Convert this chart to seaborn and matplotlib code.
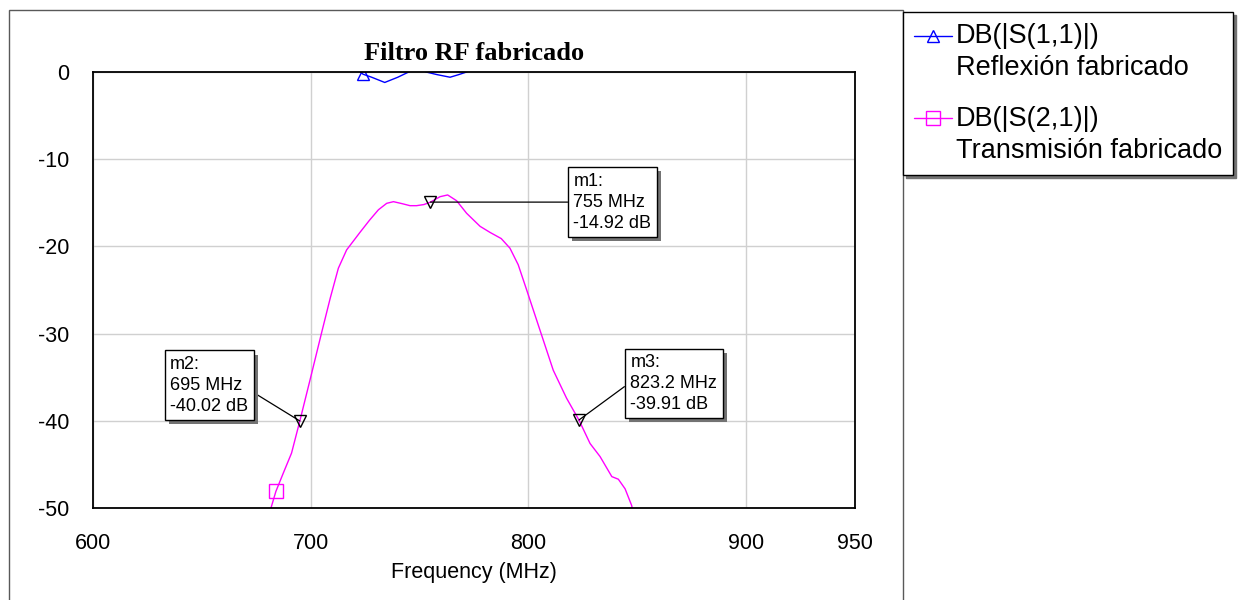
"""Recreate the 'Filtro RF fabricado' S-parameter chart."""

import matplotlib

matplotlib.use("Agg")

import matplotlib.patheffects as pe
import matplotlib.pyplot as plt
import numpy as np
import seaborn as sns
from matplotlib.legend_handler import HandlerLine2D
from matplotlib.patches import Rectangle

# S21 (transmission) trace, MHz / dB
S21_FREQ = [
    680.0, 682.1, 684.0, 687.4, 691.2, 695.0, 699.7, 705.0, 709.0, 712.7,
    716.5, 722.6, 727.0, 731.1, 734.9, 738.0, 742.0, 745.6, 748.6, 752.0,
    755.0, 759.4, 762.9, 767.0, 771.6, 777.8, 782.4, 787.5, 791.5, 795.3,
    799.2, 805.3, 811.4, 817.5, 823.2, 828.3, 832.9, 838.3, 841.3, 844.4,
    847.4, 849.0,
]
S21_DB = [
    -51.5, -49.7, -48.1, -46.0, -43.7, -40.02, -35.3, -29.9, -25.9, -22.5,
    -20.4, -18.4, -17.0, -15.8, -15.06, -14.87, -15.1, -15.33, -15.33, -15.2,
    -14.92, -14.3, -14.1, -14.76, -16.2, -17.7, -18.4, -19.1, -20.2, -22.1,
    -25.0, -29.6, -34.2, -37.4, -39.91, -42.6, -44.1, -46.4, -46.7, -47.8,
    -49.7, -51.5,
]

# S11 (reflection) trace, only the part near 0 dB is visible
S11_FREQ = [715.0, 721.0, 724.0, 728.0, 734.0, 740.0, 745.0, 749.0, 753.0,
            758.0, 764.0, 768.0, 771.6, 776.0]
S11_DB = [1.5, 0.4, -0.25, -0.6, -1.2, -0.6, 0.0, 0.5, 0.0,
          -0.3, -0.6, -0.3, 0.0, 0.6]

# marker readouts
MARKER_NAMES = ["m1", "m2", "m3"]
MARKER_FREQ = [755.0, 695.0, 823.2]
MARKER_DB = [-14.92, -40.02, -39.91]
MARKER_FREQ_TEXT = ["755 MHz", "695 MHz", "823.2 MHz"]

X_TICKS = [600, 700, 800, 900, 950]
Y_TICKS = [0, -10, -20, -30, -40, -50]

LEGEND_LABELS = [
    "DB(|S(1,1)|)\nReflexión fabricado",
    "DB(|S(2,1)|)\nTransmisión fabricado",
]

BLUE = "#0000ff"
MAGENTA = "#ff00ff"


class FirstLineHandler(HandlerLine2D):
    """Legend handle aligned with the first line of a two-line label."""

    def create_artists(self, legend, orig_handle, xdescent, ydescent,
                       width, height, fontsize, trans):
        artists = super().create_artists(legend, orig_handle, xdescent, ydescent,
                                         width, height, fontsize, trans)
        for art in artists:
            art.set_ydata(np.asarray(art.get_ydata()) + 0.62 * fontsize)
        return artists


sns.set_style("white")
plt.rcParams["font.family"] = ["Liberation Sans", "DejaVu Sans"]
plt.rcParams["axes.unicode_minus"] = False
plt.rcParams["text.color"] = "black"
plt.rcParams["axes.labelcolor"] = "black"
plt.rcParams["xtick.color"] = "black"
plt.rcParams["ytick.color"] = "black"

fig = plt.figure(figsize=(12.48, 6.0), dpi=100)
ax = fig.add_axes([93 / 1248, 92 / 600, 762 / 1248, 436 / 600])

sns.lineplot(x=S11_FREQ, y=S11_DB, ax=ax, color=BLUE, linewidth=1,
             marker="^", markevery=[2], markersize=8, markerfacecolor="none",
             markeredgecolor=BLUE, markeredgewidth=1, legend=False, sort=False)
sns.lineplot(x=S21_FREQ, y=S21_DB, ax=ax, color=MAGENTA, linewidth=1,
             marker="s", markevery=[2], markersize=10, markerfacecolor="none",
             markeredgecolor=MAGENTA, markeredgewidth=1, legend=False, sort=False)
handles = list(ax.lines[:2])

ax.plot(MARKER_FREQ, MARKER_DB, linestyle="none", marker="v", markersize=9,
        markerfacecolor="none", markeredgecolor="black", markeredgewidth=1)

# marker readout boxes: text anchor (MHz, dB) and arrow start on the box
box_text_pos = [(820.7, -11.55), (635.5, -32.55), (846.8, -32.35)]
box_relpos = [(0.0, 0.5), (1.0, 0.43), (0.0, 0.52)]
for name, f, db, ftxt, pos, rel in zip(MARKER_NAMES, MARKER_FREQ, MARKER_DB,
                                       MARKER_FREQ_TEXT, box_text_pos, box_relpos):
    ann = ax.annotate(
        f"{name}:\n{ftxt}\n{db:.2f} dB",
        xy=(f, db),
        xytext=pos,
        textcoords="data",
        ha="left",
        va="top",
        fontsize=13,
        linespacing=1.3,
        bbox=dict(boxstyle="square,pad=0.3", fc="white", ec="black", lw=1),
        arrowprops=dict(arrowstyle="-", color="black", lw=0.9, relpos=rel,
                        shrinkA=0, shrinkB=0),
        zorder=5,
    )
    ann.get_bbox_patch().set_path_effects(
        [pe.withSimplePatchShadow(offset=(3, -3), shadow_rgbFace="0.45", alpha=1.0)]
    )

ax.set_xlim(600, 950)
ax.set_ylim(-50, 0)
ax.set_xticks(X_TICKS)
ax.set_yticks(Y_TICKS)
ax.tick_params(axis="both", length=0, labelsize=15.5, labelcolor="black")
ax.tick_params(axis="x", pad=18)
ax.tick_params(axis="y", pad=17)
ax.grid(True, color="#d0d0d0", linewidth=1)
for spine in ax.spines.values():
    spine.set_color("black")
    spine.set_linewidth(1.3)
ax.set_xlabel("Frequency (MHz)", fontsize=15.5, labelpad=6, color="black")
ax.set_ylabel("")
ax.set_title("Filtro RF fabricado", fontsize=19, fontweight="bold", color="black",
             family=["Liberation Serif", "DejaVu Serif"], pad=9)

# outer frame of the graph window
fig.add_artist(Rectangle((9 / 1248, -0.05), (903 - 9) / 1248, 0.05 + 590 / 600,
                         transform=fig.transFigure, fill=False,
                         edgecolor="0.35", linewidth=1))

leg = fig.legend(
    handles,
    LEGEND_LABELS,
    loc="upper left",
    bbox_to_anchor=(903 / 1248, 588 / 600),
    borderaxespad=0,
    fontsize=19.5,
    frameon=True,
    fancybox=False,
    shadow={"color": "0.45", "alpha": 1.0},
    handlelength=1.4,
    handletextpad=0.12,
    borderpad=0.42,
    labelspacing=0.9,
    numpoints=1,
    handler_map={h: FirstLineHandler() for h in handles},
)
leg.get_frame().set_edgecolor("black")
leg.get_frame().set_linewidth(1)
for txt in leg.get_texts():
    txt.set_linespacing(1.3)
    txt.set_color("black")

fig.savefig("out.png", dpi=100)
